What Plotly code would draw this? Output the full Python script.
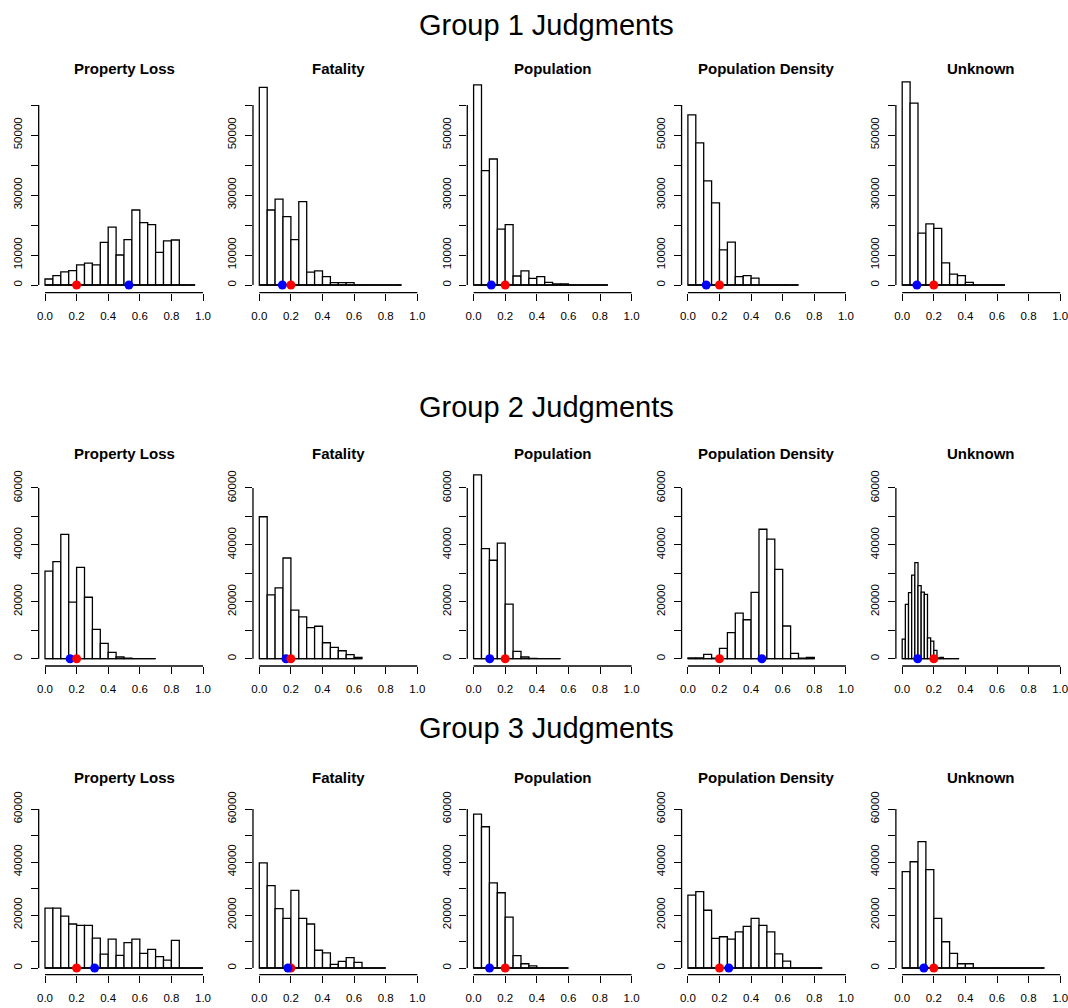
import plotly.graph_objects as go

# ---------------- data ----------------
GROUP_TITLES = ["Group 1 Judgments", "Group 2 Judgments", "Group 3 Judgments"]
CATEGORIES = ["Property Loss", "Fatality", "Population", "Population Density", "Unknown"]

# histogram counts per bin (bins start at 0)
G1_PROPERTY_LOSS = [2000, 3100, 4400, 4800, 6700, 7300, 6700, 14200, 19300, 10000, 15100,
                    25000, 20800, 20100, 10900, 14700, 15000, 0, 0]
G1_FATALITY = [65900, 25000, 28600, 22800, 15100, 27800, 4300, 4700, 2800, 800, 800, 800,
               0, 0, 0, 0, 0, 0]
G1_POPULATION = [66700, 38100, 42000, 18600, 20100, 3000, 4700, 2200, 2800, 900, 400, 400,
                 0, 0, 0, 0, 0]
G1_POP_DENSITY = [56700, 47400, 34700, 27400, 11700, 14300, 2800, 3100, 2300, 0, 0, 0, 0, 0]
G1_UNKNOWN = [67700, 60600, 17300, 20400, 18900, 7400, 3600, 3100, 900, 0, 0, 0, 0]

G2_PROPERTY_LOSS = [30800, 34100, 43700, 19900, 32100, 21600, 10300, 5400, 2200, 600, 200,
                    0, 0, 0]
G2_FATALITY = [49900, 22400, 24900, 35400, 17100, 14700, 10900, 11400, 5600, 4000, 2800,
               1400, 500]
G2_POPULATION = [64600, 38700, 34600, 40600, 19200, 2600, 600, 100, 0, 0, 0]
G2_POP_DENSITY = [300, 300, 1500, 200, 3600, 9200, 16000, 13700, 23300, 45500, 42000, 31400,
                  11500, 1900, 200, 500]
G2_UNKNOWN = [6900, 19100, 23200, 29400, 33800, 25700, 23400, 22600, 7300, 6200, 2900, 300,
              500, 0, 0, 0, 0, 0]

G3_PROPERTY_LOSS = [22600, 22600, 19600, 16600, 16100, 16100, 11300, 5200, 10900, 4800, 9600,
                    10900, 5500, 7000, 4300, 3000, 10400, 0, 0, 0]
G3_FATALITY = [39700, 31100, 22400, 18700, 29300, 18700, 16600, 6700, 5700, 1400, 2500, 3900,
               2100, 0, 0, 0]
G3_POPULATION = [58100, 53300, 32100, 28400, 19200, 4700, 1600, 800, 0, 0, 0, 0]
G3_POP_DENSITY = [27500, 28800, 21800, 11200, 11800, 10900, 13600, 15700, 18700, 16100, 13600,
                  5300, 2600, 0, 0, 0, 0]
G3_UNKNOWN = [36400, 40100, 47700, 37100, 18700, 9900, 5500, 1600, 1600, 0, 0, 0, 0, 0, 0,
              0, 0, 0]

COUNTS = [
    [G1_PROPERTY_LOSS, G1_FATALITY, G1_POPULATION, G1_POP_DENSITY, G1_UNKNOWN],
    [G2_PROPERTY_LOSS, G2_FATALITY, G2_POPULATION, G2_POP_DENSITY, G2_UNKNOWN],
    [G3_PROPERTY_LOSS, G3_FATALITY, G3_POPULATION, G3_POP_DENSITY, G3_UNKNOWN],
]
BIN_WIDTHS = [
    [0.05, 0.05, 0.05, 0.05, 0.05],
    [0.05, 0.05, 0.05, 0.05, 0.02],
    [0.05, 0.05, 0.05, 0.05, 0.05],
]
RED_POINTS = [
    [0.2, 0.2, 0.2, 0.2, 0.2],
    [0.2, 0.2, 0.2, 0.2, 0.2],
    [0.2, 0.2, 0.2, 0.2, 0.2],
]
BLUE_POINTS = [
    [0.531, 0.146, 0.112, 0.116, 0.093],
    [0.159, 0.169, 0.102, 0.468, 0.098],
    [0.314, 0.181, 0.101, 0.259, 0.137],
]
X_TICKS = [0.0, 0.2, 0.4, 0.6, 0.8, 1.0]
X_TICK_LABELS = ["0.0", "0.2", "0.4", "0.6", "0.8", "1.0"]
Y_TICKS = [0, 10000, 20000, 30000, 40000, 50000, 60000]
Y_TICK_LABELS = [
    ["0", "10000", "", "30000", "", "50000", ""],
    ["0", "", "20000", "", "40000", "", "60000"],
    ["0", "", "20000", "", "40000", "", "60000"],
]

# ---------------- layout geometry (pixels) ----------------
W, H = 1068, 1008
ROW_ZERO = [285.0, 658.7, 968.0]       # pixel y of count 0
ROW_PX10K = [30.0, 28.45, 26.5]        # pixels per 10000 counts
ROW_AXIS = [292.7, 666.0, 974.7]       # pixel y of x-axis line
ROW_TOP_VAL = [69000, 66500, 63000]
COL_ZERO = [45 + 214.3 * i for i in range(5)]
UNIT = 158.0
SUB_TITLE_Y = [69, 454, 777]
GROUP_TITLE_Y = [25, 407, 728]
GROUP_TITLE_X = 546
FONT = "Liberation Sans, Arial, sans-serif"
LW = 1.3

fig = go.Figure()
layout = {}
shapes = []
annotations = []

k = 0
for g in range(3):
    for c in range(5):
        k += 1
        xa = "x" if k == 1 else f"x{k}"
        ya = "y" if k == 1 else f"y{k}"
        counts = COUNTS[g][c]
        w = BIN_WIDTHS[g][c]
        centers = [w * (i + 0.5) for i in range(len(counts))]
        fig.add_trace(go.Bar(
            x=centers, y=counts, width=w,
            marker=dict(color="white", line=dict(color="black", width=LW)),
            xaxis=xa, yaxis=ya, showlegend=False, hoverinfo="x+y"))
        fig.add_trace(go.Scatter(
            x=[0, w * len(counts)], y=[0, 0], mode="lines",
            line=dict(color="black", width=LW),
            xaxis=xa, yaxis=ya, showlegend=False, hoverinfo="skip"))
        dots = [("red", RED_POINTS[g][c]), ("blue", BLUE_POINTS[g][c])]
        if g < 2:
            dots = dots[::-1]
        for col, val in dots:
            fig.add_trace(go.Scatter(
                x=[val], y=[0], mode="markers",
                marker=dict(color=col, size=9),
                xaxis=xa, yaxis=ya, showlegend=False, cliponaxis=False))

        left = COL_ZERO[c] - 0.04 * UNIT
        right = COL_ZERO[c] + 1.04 * UNIT
        ybot = -(ROW_AXIS[g] - ROW_ZERO[g]) / ROW_PX10K[g] * 10000
        top_px = ROW_ZERO[g] - ROW_TOP_VAL[g] / 10000 * ROW_PX10K[g]

        xkey = "xaxis" if k == 1 else f"xaxis{k}"
        ykey = "yaxis" if k == 1 else f"yaxis{k}"
        layout[xkey] = dict(
            domain=[left / W, right / W], range=[-0.04, 1.04], anchor=ya,
            tickvals=X_TICKS, ticktext=X_TICK_LABELS, ticks="outside",
            ticklen=7, tickwidth=LW, tickcolor="black", showline=False,
            showgrid=False, zeroline=False, ticklabelstandoff=5, automargin=False,
            ticklabeloverflow="allow",
            tickfont=dict(family=FONT, size=11.5, color="black"))
        layout[ykey] = dict(
            domain=[1 - ROW_AXIS[g] / H, 1 - top_px / H], range=[ybot, ROW_TOP_VAL[g]],
            anchor=xa, tickvals=Y_TICKS, ticktext=Y_TICK_LABELS[g], ticks="outside",
            ticklen=7, tickwidth=LW, tickcolor="black", showline=False,
            showgrid=False, zeroline=False, tickangle=-90, ticklabelstandoff=4,
            automargin=False, ticklabeloverflow="allow",
            tickfont=dict(family=FONT, size=11.5, color="black"))

        shapes.append(dict(type="line", xref=f"{xa} domain", yref=ya,
                           x0=0, x1=0, y0=Y_TICKS[0], y1=Y_TICKS[-1],
                           line=dict(color="black", width=LW)))
        shapes.append(dict(type="line", xref=xa, yref=f"{ya} domain",
                           x0=X_TICKS[0], x1=X_TICKS[-1], y0=0, y1=0,
                           line=dict(color="black", width=LW)))
        annotations.append(dict(
            text=f"<b>{CATEGORIES[c]}</b>", xref="paper", yref="paper",
            x=(left + right) / 2 / W, y=1 - SUB_TITLE_Y[g] / H,
            xanchor="center", yanchor="middle", showarrow=False,
            font=dict(family=FONT, size=15, color="black")))
    annotations.append(dict(
        text=GROUP_TITLES[g], xref="paper", yref="paper",
        x=GROUP_TITLE_X / W, y=1 - GROUP_TITLE_Y[g] / H,
        xanchor="center", yanchor="middle", showarrow=False,
        font=dict(family=FONT, size=29, color="black")))

fig.update_layout(
    width=W, height=H, margin=dict(l=0, r=0, t=0, b=0, pad=0, autoexpand=False),
    paper_bgcolor="white", plot_bgcolor="white",
    barmode="overlay", showlegend=False,
    shapes=shapes, annotations=annotations, **layout)

POST = (
    "document.documentElement.style.margin='0';"
    "document.documentElement.style.overflow='hidden';"
    "document.body.style.margin='0';document.body.style.padding='0';"
    "document.body.style.overflow='hidden';"
    "var d=document.getElementsByClassName('plotly-graph-div')[0];"
    "var p=d.parentElement;p.style.position='absolute';p.style.top='0px';"
    "p.style.left='0px';p.style.margin='0';"
)
fig.write_html("out.html", config={"displayModeBar": False}, post_script=POST)
